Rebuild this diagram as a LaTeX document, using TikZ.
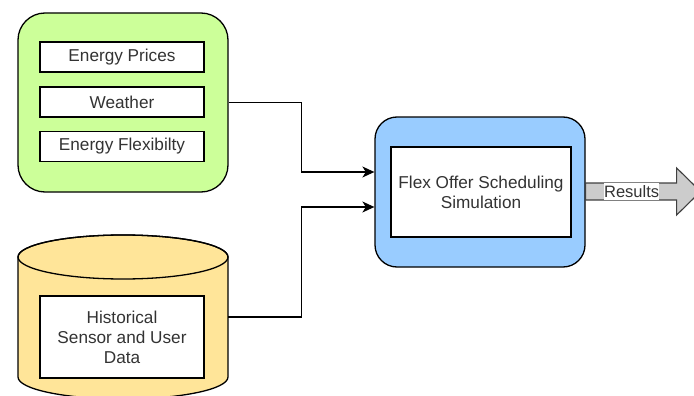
\documentclass[tikz,border=0pt]{standalone}
\usepackage{fontspec}
\setmainfont{Liberation Sans}
\usetikzlibrary{arrows.meta,calc}
\definecolor{panelgreen}{HTML}{CCFF99}
\definecolor{panelblue}{HTML}{99CCFF}
\definecolor{dbyellow}{HTML}{FFE599}
\definecolor{txt}{HTML}{333333}
\definecolor{flowgrey}{HTML}{CCCCCC}
\tikzset{
  panel/.style={draw=black, line width=1.3pt, rounded corners=#1, inner sep=0pt},
  item/.style={draw=black, line width=1.1pt, fill=white, text=txt, align=center,
    inner sep=0pt, font=\fontsize{17.2}{20}\selectfont},
  conn/.style={draw=black, line width=1.3pt, -{Stealth[length=12pt,width=11pt,inset=3.5pt]}},
  flow/.style={draw=black!75, fill=flowgrey, line width=1.1pt, line join=miter},
  flowlabel/.style={fill=white, text=txt, inner sep=0pt, minimum height=17pt,
    font=\fontsize{16.5}{20}\selectfont}
}
\begin{document}
\begin{tikzpicture}[x=1pt,y=-1pt]
  \useasboundingbox (0,0) rectangle (694,396);
  \clip (0,0) rectangle (694,396);

  % input panel with the three data sources
  \node[panel=27pt, fill=panelgreen, minimum width=210pt, minimum height=179pt] (inputs) at (123,102.5) {};
  \node[item, minimum width=164pt, minimum height=30pt] (prices) at (122,57) {Energy Prices};
  \node[item, minimum width=164pt, minimum height=30pt] (weather) at (122,102) {Weather};
  \node[item, minimum width=164pt, minimum height=30pt] (flex) at (122,146.5) {Energy Flexibilty};

  % database cylinder
  \node[minimum width=210pt, minimum height=164pt, inner sep=0pt] (db) at (123,317) {};
  \path[draw=black, line width=1.3pt, fill=dbyellow]
    (18,257) -- (18,377) arc[start angle=180, end angle=360, x radius=105, y radius=-22]
    -- (228,257) arc[start angle=0, end angle=180, x radius=105, y radius=-22] -- cycle;
  \draw[line width=1.3pt] (123,257) ellipse[x radius=105, y radius=22];
  \node[item, minimum width=164pt, minimum height=82pt] (hist) at (122,337)
    {Historical\\Sensor and User\\Data};

  % scheduling simulation block
  \node[panel=22pt, fill=panelblue, minimum width=210pt, minimum height=150pt] (sim) at (480,192) {};
  \node[item, minimum width=180pt, minimum height=90pt] (simtext) at (481,192)
    {Flex Offer Scheduling\\Simulation};

  % connectors into the simulation
  \draw[conn] (inputs.east) -- ++(73,0) |- ([yshift=20]sim.west);
  \draw[conn] (db.east) -- ++(73,0) |- ([yshift=-15]sim.west);

  % results output arrow
  \coordinate (out) at ([yshift=0.5]sim.east);
  \draw[flow] ($(out)+(0,-8.5)$) -- ++(91,0) -- ++(0,-15) -- ++(24,23.5)
    -- ++(-24,23.5) -- ++(0,-15) -- ++(-91,0) -- cycle;
  \node[flowlabel] (res) at ($(out)+(46,0)$) {Results};
\end{tikzpicture}
\end{document}
